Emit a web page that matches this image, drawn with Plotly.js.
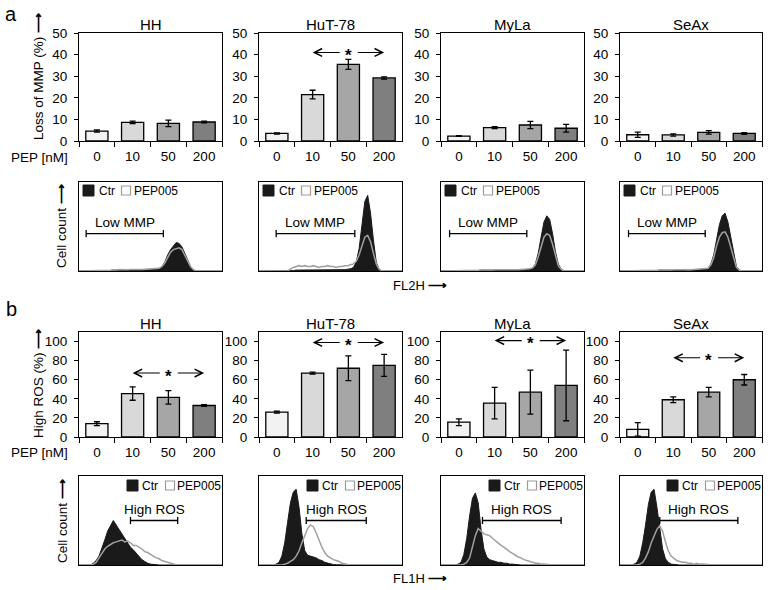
<!DOCTYPE html>
<html><head><meta charset="utf-8">
<script src="https://cdn.plot.ly/plotly-3.0.1.min.js"></script>
<style>html,body{margin:0;padding:0;background:#fff}#chart{width:772px;height:590px}</style>
</head><body><div id="chart"></div>
<script>
// ---------------- DATA ----------------
const cellLines = ['HH', 'HuT-78', 'MyLa', 'SeAx'];
const pepDoses = ['0', '10', '50', '200'];

// (a) Loss of MMP (%)
const mmpMean = [[4.6, 8.6, 8.2, 8.8], [3.5, 21.5, 35.5, 29.2], [2.3, 6.2, 7.4, 5.9], [2.9, 2.8, 4.0, 3.5]];
const mmpErr  = [[0.5, 0.6, 1.5, 0.4], [0.3, 2.0, 2.3, 0.5], [0.2, 0.5, 1.7, 1.8], [1.2, 0.5, 0.8, 0.4]];
const mmpStarY = [null, 41, null, null];

// (b) High ROS (%)
const rosMean = [[14, 45.5, 41.5, 33], [26, 67, 72, 75], [15.5, 35.5, 47, 54], [8, 39, 47, 60]];
const rosErr  = [[2, 7, 7, 1], [1, 1, 13, 11.5], [3.5, 16.5, 23, 37], [7, 3, 5, 5.5]];
const rosStarY = [67, 99, 101, 83];

// flow cytometry histograms (relative cell count vs. channel, 0-100)
const channels = [0,2,4,6,8,10,12,14,16,18,20,22,24,26,28,30,32,34,36,38,40,42,44,46,48,50,52,54,56,58,60,62,64,66,68,70,72,74,76,78,80,82,84,86,88,90,92,94,96,98,100];

// FL2H (MMP)
const fl2Ctr = [
  [0,0,0,0,0,0,0,0,0,0,0, 0.5,1,0.8,1.2,1,1.3,0.8,1.2,1,1.4,1,1.2,1.5,1.2,1.5,1.8,2,2.5, 5,10,18,24,28,32,31,27,20,12,5,1, 0,0,0,0,0,0,0,0,0,0],
  [0,0,0,0,0,0,0,0,0,0,0,0, 0.5,1,1,1.5,1,1.2,1,1.5,1,1.2,1.5,1,1.3,1,1.5,1.2,1,1.5,1.5,2,2.5, 4,10,25,50,78,85,65,35,10,2, 0,0,0,0,0,0,0,0],
  [0,0,0,0,0,0,0,0,0,0,0,0,0, 0.5,1,0.8,1,1.2,0.8,1,1.2,1,0.8,1,1.2,1,1.3,1,1.2,1.5,1.5,2, 3,8,20,38,55,62,58,42,22,8,2, 0,0,0,0,0,0,0,0],
  [0,0,0,0,0,0,0,0,0,0,0,0,0, 0.5,1,0.8,1,1.2,1,0.8,1.2,1,1,1.2,1,1.3,1,1.2,1.5,1.5,2, 3,8,18,35,52,62,65,55,38,18,5,1, 0,0,0,0,0,0,0,0]
];
const fl2Pep = [
  [0,0,0,0,0,0,0,0,0,0,0, 0.8,1.5,1.2,1.8,1.5,2,1.4,1.8,1.5,2,1.6,1.8,2,1.7,2,2.2,2.5,3, 5,9,15,21,24,25,26,24,18,11,5,1.5, 0,0,0,0,0,0,0,0,0,0],
  [0,0,0,0,0,0,0,0,0,0,0, 2,4,5,6,5,6,5,5,6,5,4,5,5,6,5,5,4,5,5,6,6,7, 8,11,18,28,38,40,33,20,8,2, 0,0,0,0,0,0,0,0],
  [0,0,0,0,0,0,0,0,0,0,0,0,0, 0.8,1.2,1,1.5,1.3,1,1.4,1.5,1.2,1,1.3,1.5,1.2,1.5,1.3,1.5,1.8,2,2.5, 3.5,7,16,28,38,42,40,30,17,6,2, 0,0,0,0,0,0,0,0],
  [0,0,0,0,0,0,0,0,0,0,0,0,0, 0.8,1.2,1,1.4,1.2,1,1.3,1.5,1.2,1.2,1.4,1.2,1.5,1.3,1.5,1.8,2,2.5, 3,7,15,28,38,43,44,38,27,13,4,1, 0,0,0,0,0,0,0,0]
];
// FL1H (ROS)
const fl1Ctr = [
  [0,0,0,0,0, 2,5,10,18,28,38,45,50,45,40,36,30,25,20,17,13,9,6,4,2,1,0.5, 0,0,0,0,0,0,0,0,0,0,0,0,0,0,0,0,0,0,0,0,0,0,0,0],
  [0,0,0,0,0,0, 1,3,10,25,48,70,82,85,65,35,16,11,10,9,8,6,5,3,2,1,0.5,0.3, 0,0,0,0,0,0,0,0,0,0,0,0,0,0,0,0,0,0,0,0,0,0,0],
  [0,0,0,0,0,0, 1,3,12,30,55,75,81,70,40,18,9,6,5,4,3,3,2,2,1,1,0.5, 0,0,0,0,0,0,0,0,0,0,0,0,0,0,0,0,0,0,0,0,0,0,0,0],
  [0,0,0,0,0, 1,3,10,25,45,68,82,85,65,38,18,7,3,1,0.5,0.2, 0,0,0,0,0,0,0,0,0,0,0,0,0,0,0,0,0,0,0,0,0,0,0,0,0,0,0,0,0,0]
];
const fl1Pep = [
  [0,0,0,0,0, 1,3,8,13,18,21,23,25,26,27,28,26,27,25,22,22,20,18,15,14,12,10,8,7,5,4,3,1.5,0.8,0.3, 0,0,0,0,0,0,0,0,0,0,0,0,0,0,0,0],
  [0,0,0,0,0,0,0,0,0, 1,2,4,6,10,16,25,34,41,45,43,36,27,20,14,10,8,6,5,4,2,1,0.5,0.3, 0,0,0,0,0,0,0,0,0,0,0,0,0,0,0,0,0,0],
  [0,0,0,0,0,0,0,0, 1,3,8,20,33,41,38,35,34,33,30,27,24,22,20,17,15,13,11,9,8,6,5,4,3,2,2,1,1,0.5,0.3, 0,0,0,0,0,0,0,0,0,0,0,0],
  [0,0,0,0,0,0,0, 1,3,8,15,25,32,40,44,38,26,16,10,7,5,4,3,3,2,2,1,2,1,1,0.5,0.5,0.2, 0,0,0,0,0,0,0,0,0,0,0,0,0,0,0,0,0,0]
];
const mmpGate = [[5, 59], [12, 67], [6, 60], [6, 60]];
const rosGate = [[36, 69], [33, 75], [29, 84], [28, 83]];

// ---------------- LAYOUT HELPERS ----------------
const W = 772, H = 590;
const FONT = '"Liberation Sans", Arial, Helvetica, sans-serif';
const colsPx = [[79, 222], [259, 402], [441, 584], [620, 762]];
const rowA = [33, 141], rowAH = [182, 271], rowB = [332, 437], rowBH = [476, 565];
const fx = p => p / W, fy = p => 1 - p / H;
const barColors = ['#f2f2f2', '#d9d9d9', '#a6a6a6', '#7f7f7f'];
const ARROW = '<b>\u27F6</b>';

const traces = [];
const layout = {
  width: W, height: H, margin: {l: 0, r: 0, t: 0, b: 0},
  paper_bgcolor: '#ffffff', plot_bgcolor: '#ffffff', showlegend: false,
  font: {family: FONT, size: 13, color: '#000'},
  bargap: 0.38, annotations: [], shapes: []
};
const ann = a => layout.annotations.push(Object.assign({showarrow: false, xanchor: 'center', yanchor: 'middle',
  font: {family: FONT, size: 13, color: '#000'}}, a));

function axId(n) { return n === 1 ? '' : String(n); }
function addAxes(n, c, row, xo, yo) {
  const id = axId(n);
  const base = {showline: true, linecolor: '#000', linewidth: 1, mirror: true, showgrid: false, zeroline: false, fixedrange: true};
  layout['xaxis' + id] = Object.assign({}, base, {domain: [fx(colsPx[c][0]), fx(colsPx[c][1])], anchor: 'y' + id}, xo);
  layout['yaxis' + id] = Object.assign({}, base, {domain: [fy(row[1]), fy(row[0])], anchor: 'x' + id}, yo);
  return id;
}

function barPanel(n, c, row, means, errs, yMax, dtick, starY) {
  const id = addAxes(n, c, row,
    {type: 'category', categoryorder: 'array', categoryarray: pepDoses, range: [-0.5, 3.5],
     tickson: 'boundaries', ticks: 'outside', ticklen: 5, tickcolor: '#000', tickwidth: 1, tickfont: {size: 13.5},
     ticklabelstandoff: 3},
    {range: [0, yMax], tick0: 0, dtick: dtick, ticks: 'outside', ticklen: 4, tickcolor: '#000', tickwidth: 1,
     tickfont: {size: 13.5}, ticklabelstandoff: 4});
  traces.push({type: 'bar', x: pepDoses, y: means, xaxis: 'x' + id, yaxis: 'y' + id,
    marker: {color: barColors, line: {color: '#000', width: 1.3}},
    error_y: {type: 'data', array: errs, visible: true, color: '#000', thickness: 1.3, width: 3},
    hoverinfo: 'skip'});
  if (starY !== null) {
    ann({xref: 'x' + id, yref: 'y' + id, x: 2, y: starY, text: '<b>*</b>', font: {family: FONT, size: 17, color: '#000'}, yshift: -3});
    const arr = {xref: 'x' + id, yref: 'y' + id, axref: 'x' + id, ayref: 'y' + id, text: '', showarrow: true,
      arrowhead: 5, arrowsize: 1.4, arrowwidth: 1.1, arrowcolor: '#000', standoff: 0, startstandoff: 0};
    layout.annotations.push(Object.assign({}, arr, {x: 1, y: starY, ax: 1.8, ay: starY}));
    layout.annotations.push(Object.assign({}, arr, {x: 3, y: starY, ax: 2.22, ay: starY}));
  }
  ann({xref: 'paper', yref: 'paper', x: fx((colsPx[c][0] + colsPx[c][1]) / 2), y: fy(row[0] - 9), text: cellLines[c],
       font: {family: FONT, size: 15, color: '#000'}});
}

function histPanel(n, c, row, ctr, pep, gate, gateY, gateText, legendRight) {
  const id = addAxes(n, c, row,
    {range: [0, 100], showticklabels: false, ticks: ''},
    {range: [0, 100], showticklabels: false, ticks: ''});
  traces.push({type: 'scatter', mode: 'lines', x: channels, y: ctr, xaxis: 'x' + id, yaxis: 'y' + id,
    fill: 'tozeroy', fillcolor: '#1a1a1a', line: {color: '#1a1a1a', width: 1}, hoverinfo: 'skip'});
  traces.push({type: 'scatter', mode: 'lines', x: channels, y: pep, xaxis: 'x' + id, yaxis: 'y' + id,
    line: {color: '#a0a0a0', width: 1.5}, hoverinfo: 'skip'});
  const ln = {type: 'line', xref: 'x' + id, yref: 'y' + id, line: {color: '#000', width: 1.3}};
  layout.shapes.push(Object.assign({}, ln, {x0: gate[0], x1: gate[1], y0: gateY, y1: gateY}));
  layout.shapes.push(Object.assign({}, ln, {x0: gate[0], x1: gate[0], y0: gateY - 4, y1: gateY + 4}));
  layout.shapes.push(Object.assign({}, ln, {x0: gate[1], x1: gate[1], y0: gateY - 4, y1: gateY + 4}));
  ann({xref: 'x' + id, yref: 'y' + id, x: (gate[0] + gate[1]) / 2, y: gateY, yanchor: 'bottom', yshift: 2, text: gateText,
       font: {family: FONT, size: 13.5, color: '#000'}});
  // legend
  const L = colsPx[c][0], R = colsPx[c][1], T = row[0];
  let bx0, wx0, tx1, tx2, sy0, sy1;
  if (!legendRight) { bx0 = L + 4; wx0 = L + 42; tx1 = L + 18; tx2 = L + 53; sy0 = T + 3; }
  else { bx0 = R - 95; wx0 = R - 57; tx1 = R - 82; tx2 = R - 47; sy0 = T + 4; }
  sy1 = sy0 + 11;
  layout.shapes.push({type: 'rect', xref: 'paper', yref: 'paper', x0: fx(bx0), x1: fx(bx0 + 11), y0: fy(sy1), y1: fy(sy0),
    fillcolor: '#1a1a1a', line: {color: '#1a1a1a', width: 1}});
  layout.shapes.push({type: 'rect', xref: 'paper', yref: 'paper', x0: fx(wx0 + 0.5), x1: fx(wx0 + 9.5), y0: fy(sy1 - 1), y1: fy(sy0 + 1),
    fillcolor: '#ffffff', line: {color: '#9a9a9a', width: 1.2}});
  ann({xref: 'paper', yref: 'paper', x: fx(tx1), y: fy((sy0 + sy1) / 2), xanchor: 'left', text: 'Ctr', font: {family: FONT, size: 12, color: '#000'}});
  ann({xref: 'paper', yref: 'paper', x: fx(tx2), y: fy((sy0 + sy1) / 2), xanchor: 'left', text: 'PEP005', font: {family: FONT, size: 12, color: '#000'}});
}

for (let c = 0; c < 4; c++) {
  barPanel(c + 1, c, rowA, mmpMean[c], mmpErr[c], 50, 10, mmpStarY[c]);
  histPanel(c + 5, c, rowAH, fl2Ctr[c], fl2Pep[c], mmpGate[c], 42, 'Low MMP', false);
  barPanel(c + 9, c, rowB, rosMean[c], rosErr[c], 110, 20, rosStarY[c]);
  histPanel(c + 13, c, rowBH, fl1Ctr[c], fl1Pep[c], rosGate[c], 50, 'High ROS', true);
}

// panel letters & axis titles
ann({xref: 'paper', yref: 'paper', x: fx(11), y: fy(14), text: 'a', font: {family: FONT, size: 20, color: '#000'}});
ann({xref: 'paper', yref: 'paper', x: fx(11), y: fy(309), text: 'b', font: {family: FONT, size: 20, color: '#000'}});
ann({xref: 'paper', yref: 'paper', x: fx(38), y: fy(77), text: 'Loss of MMP (%) ' + ARROW, textangle: -90, font: {family: FONT, size: 13.5, color: '#000'}});
ann({xref: 'paper', yref: 'paper', x: fx(38), y: fy(384), text: 'High ROS (%) ' + ARROW, textangle: -90, font: {family: FONT, size: 13.5, color: '#000'}});
ann({xref: 'paper', yref: 'paper', x: fx(62), y: fy(226), text: 'Cell count ' + ARROW, textangle: -90, font: {family: FONT, size: 13.5, color: '#000'}});
ann({xref: 'paper', yref: 'paper', x: fx(62), y: fy(521), text: 'Cell count ' + ARROW, textangle: -90, font: {family: FONT, size: 13.5, color: '#000'}});
ann({xref: 'paper', yref: 'paper', x: fx(39), y: fy(157), text: 'PEP [nM]', font: {family: FONT, size: 13.5, color: '#000'}});
ann({xref: 'paper', yref: 'paper', x: fx(39), y: fy(452), text: 'PEP [nM]', font: {family: FONT, size: 13.5, color: '#000'}});
ann({xref: 'paper', yref: 'paper', x: fx(391), y: fy(285), xanchor: 'left', text: 'FL2H ' + ARROW});
ann({xref: 'paper', yref: 'paper', x: fx(391), y: fy(578), xanchor: 'left', text: 'FL1H ' + ARROW});

Plotly.newPlot('chart', traces, layout, {staticPlot: true, displayModeBar: false});
</script></body></html>
